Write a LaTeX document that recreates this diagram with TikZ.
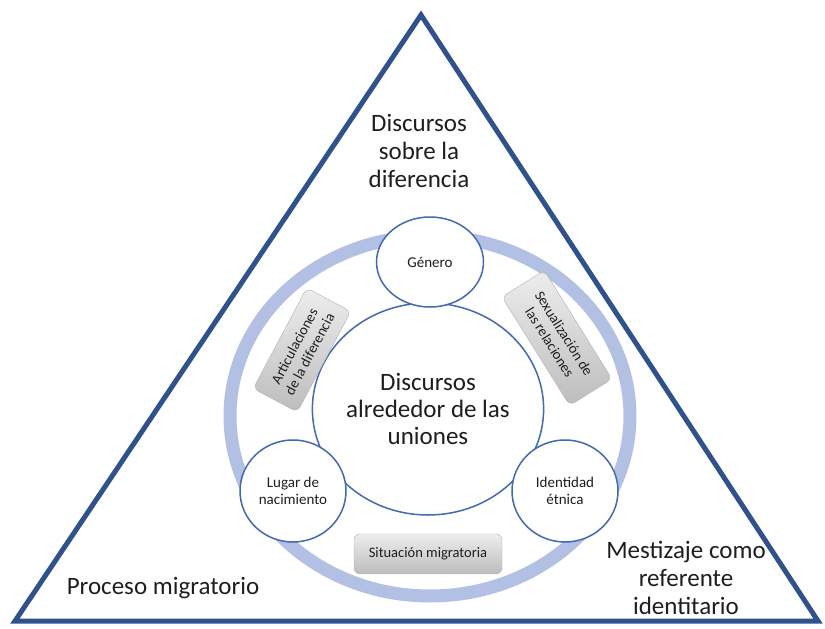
\documentclass[tikz,border=0pt]{standalone}
\usepackage{fontspec}
\setmainfont{Carlito}
\usetikzlibrary{positioning,shapes.geometric}
\definecolor{darkblue}{RGB}{47,82,143}
\definecolor{lineblue}{RGB}{66,104,182}
\definecolor{ringblue}{RGB}{178,192,228}
\definecolor{ink}{RGB}{30,30,30}

\begin{document}
\begin{tikzpicture}[x=1pt,y=-1pt]
\tikzstyle{main}=[ellipse, draw=lineblue, line width=1.5pt, fill=white, inner sep=0pt, align=center, text=ink, font=\fontsize{15}{17}\selectfont]
\tikzstyle{tag}=[rectangle, rounded corners=6pt, draw=black!30, top color=black!7, bottom color=black!26, inner sep=0pt, align=center, text=ink, font=\fontsize{14.5}{17}\selectfont]
\tikzstyle{big}=[align=center, text=ink, font=\fontsize{25}{28}\selectfont]
\useasboundingbox (0,0) rectangle (825,629);
  % outer triangle and ring
\draw[darkblue, line width=5pt, line join=miter] (421,15) -- (818,621) -- (15,621) -- cycle;
\draw[ringblue, line width=13pt] (430,416) ellipse [x radius=200pt, y radius=180pt];
  % circles
\node[main, minimum width=231pt, minimum height=212pt, font=\fontsize{25}{27}\selectfont] (core) at (428,409) {Discursos\\alrededor de las\\uniones};
  \node[main, minimum width=107pt, minimum height=90pt] (genero) at (430,262) {Género};
  \node[main, minimum width=106pt, minimum height=102pt] (lugar) at (293,491) {Lugar de\\nacimiento};
  \node[main, minimum width=106pt, minimum height=102pt] (etnica) at (565,491) {Identidad\\étnica};
  % grey tags
\node[tag, minimum width=114pt, minimum height=50pt, rotate=62] (artic) at (302,350) {Articulaciones\\de la diferencia};
  \node[tag, minimum width=128pt, minimum height=50pt, rotate=-58] (sexual) at (557,338) {Sexualización de\\las relaciones};
  \node[tag, minimum width=148pt, minimum height=40pt] (migra) [below=18pt of core] {Situación migratoria};
  % corner texts
\node[big] (sobre) at (419,151) {Discursos\\sobre la\\diferencia};
  \node[big] (proceso) at (163,588) {Proceso migratorio};
  \node[big] (mestizaje) at (686,578) {Mestizaje como\\referente\\identitario};
\end{tikzpicture}
\end{document}
